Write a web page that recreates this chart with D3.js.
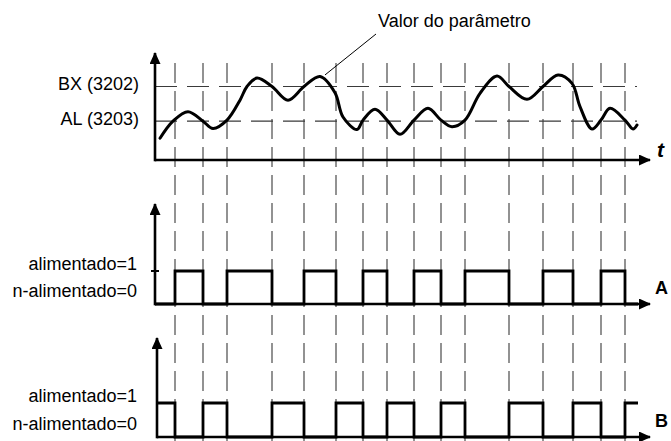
<!DOCTYPE html>
<html>
<head>
<meta charset="utf-8">
<script src="https://cdn.jsdelivr.net/npm/d3@7"></script>
<style>
  body { margin: 0; background: #fff; }
  text { font-family: "Liberation Sans", Arial, Helvetica, sans-serif; font-size: 18px; fill: #000; }
</style>
</head>
<body>
<svg width="671" height="441"></svg>
<script>
// parameter value over time (time units, value in % of panel height)
const curveTime = [5, 18, 33, 48, 58, 72, 85, 92, 102, 117, 133, 149, 165, 180, 188, 202, 208, 220, 232, 245, 259, 273, 286, 297, 310, 325, 342, 354, 372, 388, 403, 417, 425, 437, 446, 455, 470, 478, 482];
const curveValue = [20.7, 37, 46, 37, 30, 38, 57, 70, 78, 70, 57, 70, 79.5, 64, 41, 29, 38, 48.3, 38, 24.5, 38, 49.2, 38, 31.7, 38, 63.5, 80, 70, 57.8, 70, 81, 73, 50.8, 29.5, 38, 49.2, 38, 29.5, 33.3];

const levelNames = ["BX (3202)", "AL (3203)"];
const levelValues = [70, 37];

// times where the outputs switch
const switchTimes = [20, 48, 72, 117, 149, 181, 208, 232, 259, 286, 310, 354, 388, 418, 446, 470];
// state of output A starting at each switch time (B is the inverse)
const stateA = [1, 0, 1, 0, 1, 0, 1, 0, 1, 0, 1, 0, 1, 0, 1, 0];
const endTime = 483;

const stateLabels = ["n-alimentado=0", "alimentado=1"];
const signalNames = ["A", "B"];

const svg = d3.select("svg");

const x = d3.scaleLinear([0, 500], [155, 655]);
const yTop = d3.scaleLinear([0, 100], [160, 55]);
const yA = d3.scaleLinear([0, 1], [304, 271]);
const yB = d3.scaleLinear([0, 1], [437, 403]);

svg.append("defs").append("marker")
  .attr("id", "arrow")
  .attr("viewBox", "0 0 12 11")
  .attr("refX", 11).attr("refY", 5.5)
  .attr("markerWidth", 12).attr("markerHeight", 11)
  .attr("markerUnits", "userSpaceOnUse")
  .attr("orient", "auto")
  .append("path").attr("d", "M0,0L12,5.5L0,11Z").attr("fill", "#000");

// vertical switching guides
svg.append("g")
  .attr("stroke", "#3a3a3a")
  .attr("stroke-width", 1.1)
  .attr("stroke-dasharray", "20,8")
  .selectAll("line")
  .data(switchTimes).enter()
  .append("line")
  .attr("x1", t => x(t)).attr("x2", t => x(t))
  .attr("y1", 63).attr("y2", 441);

// threshold levels
svg.append("g")
  .attr("stroke", "#3a3a3a")
  .attr("stroke-width", 1.1)
  .attr("stroke-dasharray", "22,10")
  .selectAll("line")
  .data(levelValues).enter()
  .append("line")
  .attr("x1", x(0)).attr("x2", x(482))
  .attr("y1", v => yTop(v)).attr("y2", v => yTop(v));

svg.append("g")
  .selectAll("text")
  .data(levelNames).enter()
  .append("text")
  .attr("x", 139)
  .attr("y", (d, i) => yTop(levelValues[i]) - 1)
  .attr("text-anchor", "end")
  .attr("dominant-baseline", "middle")
  .text(d => d);

// axes: [x origin, y bottom, y top]
function axes(x0, yBottom, yTopPx) {
  const g = svg.append("g").attr("stroke", "#000").attr("stroke-width", 2.6).attr("fill", "none");
  g.append("line").attr("x1", x0).attr("x2", x(495)).attr("y1", yBottom).attr("y2", yBottom)
    .attr("marker-end", "url(#arrow)");
  g.append("line").attr("x1", x0).attr("x2", x0).attr("y1", yBottom + 1.3).attr("y2", yTopPx)
    .attr("marker-end", "url(#arrow)");
}
axes(x(0), yTop(0), 53);
axes(x(0), yA(0), 204);
axes(x(2), yB(0), 338);

// parameter curve
const pts = curveTime.map((t, i) => [t, curveValue[i]]);
svg.append("path")
  .datum(pts)
  .attr("fill", "none")
  .attr("stroke", "#000")
  .attr("stroke-width", 3)
  .attr("stroke-linejoin", "round")
  .attr("stroke-linecap", "round")
  .attr("d", d3.line().x(d => x(d[0])).y(d => yTop(d[1])).curve(d3.curveCatmullRom.alpha(0.5)));

// annotation
svg.append("line")
  .attr("x1", x(170)).attr("y1", yTop(81))
  .attr("x2", x(221)).attr("y2", yTop(120))
  .attr("stroke", "#000").attr("stroke-width", 1);
svg.append("text")
  .attr("x", x(223)).attr("y", 27)
  .text("Valor do parâmetro");

svg.append("text")
  .attr("x", 657).attr("y", 157)
  .style("font-weight", "bold").style("font-style", "italic").style("font-size", "21px")
  .text("t");

// output signals
const step = d3.line().curve(d3.curveStepAfter);
function signal(states, yScale, t0, s0, name) {
  const data = [[t0, s0]].concat(switchTimes.map((t, i) => [t, states[i]]));
  data.push([endTime, data[data.length - 1][1]]);
  svg.append("path")
    .attr("fill", "none")
    .attr("stroke", "#000")
    .attr("stroke-width", 2.8)
    .attr("d", step.x(d => x(d[0])).y(d => yScale(d[1]))(data));
  svg.append("g")
    .selectAll("text")
    .data(stateLabels).enter()
    .append("text")
    .attr("x", 137)
    .attr("y", (d, i) => yScale(i) + (i ? -6 : -12))
    .attr("text-anchor", "end")
    .attr("dominant-baseline", "middle")
    .text(d => d);
  svg.append("text")
    .attr("x", 655).attr("y", yScale(0) - 10)
    .style("font-weight", "bold")
    .text(name);
}
signal(stateA, yA, 0, 0, signalNames[0]);
signal(stateA.map(s => 1 - s), yB, 2, 1, signalNames[1]);

// tick for the "alimentado" level on A
svg.append("line")
  .attr("x1", x(0) - 4).attr("x2", x(0) + 4)
  .attr("y1", yA(1)).attr("y2", yA(1))
  .attr("stroke", "#000").attr("stroke-width", 2);
</script>
</body>
</html>
